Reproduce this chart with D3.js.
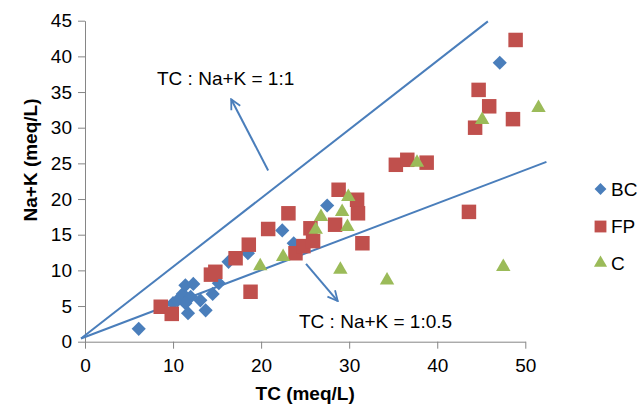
<!DOCTYPE html>
<html><head><meta charset="utf-8">
<script src="https://cdn.jsdelivr.net/npm/d3@7"></script>
<style>body{margin:0;background:#fff}text{font-family:"Liberation Sans",Arial,sans-serif;fill:#000}</style>
</head><body><svg id="c" width="644" height="406"></svg>
<script>
const xTicks=[0,10,20,30,40,50];
const yTicks=[0,5,10,15,20,25,30,35,40,45];
const bcX=[6.1,10.0,10.5,11.1,11.4,12.3,12.0,11.4,11.7,13.1,13.7,14.5,15.2,16.3,18.5,22.4,23.7,27.5,47.1];
const bcY=[1.8,5.4,5.8,6.7,7.9,8.1,6.3,5.4,4.0,5.8,4.4,6.7,8.2,11.2,12.4,15.6,13.8,19.1,39.1];
const fpX=[8.6,9.85,14.3,14.8,17.1,18.6,18.8,20.8,23.1,23.9,24.8,25.9,25.6,28.4,28.8,30.9,31.0,31.5,35.3,36.6,38.8,43.6,44.3,44.7,45.9,48.6,48.9];
const fpY=[4.9,3.9,9.4,9.8,11.7,13.6,7.0,15.8,18.0,12.4,13.4,14.1,15.9,16.4,21.3,19.9,18.0,13.8,24.8,25.5,25.1,18.2,30.0,35.3,33.0,31.2,42.3];
const cX=[19.9,22.5,26.2,26.8,29.2,29.9,29.8,29.0,34.3,37.7,45.1,51.5,47.5];
const cY=[10.6,11.9,15.7,17.5,18.2,20.3,16.1,10.1,8.6,25.1,31.1,32.8,10.5];
const seriesNames=["BC","FP","C"];
const colors=["#4A7EBB","#C0504D","#9BBB59"];
// reference lines [x0,y0,x1,y1] and arrows [tailX,tailY,tipX,tipY] in data units
const refLine1=[-0.45,0.45,45.75,44.9];
const refLine2=[-0.45,0.45,52.4,25.2];
const arrow1=[20.8,24.0,16.6,34.0];
const arrow2=[25.1,10.9,28.7,5.7];
const labels=["TC : Na+K = 1:1","TC : Na+K = 1:0.5"];

const svg=d3.select("#c");
const x=d3.scaleLinear().domain([0,50]).range([85,525.3]);
const y=d3.scaleLinear().domain([0,45]).range([341.7,20.7]);
const axisCol="#868686";
const fs=19;

// axes
const gx=svg.append("g").attr("transform",`translate(0,${y(0)})`)
 .call(d3.axisBottom(x).tickValues(xTicks).tickSize(7).tickSizeOuter(0));
gx.select(".domain").attr("stroke",axisCol);
gx.selectAll("line").attr("stroke",axisCol);
gx.selectAll("text").attr("font-size",fs).attr("dy","1.05em").attr("font-family","Liberation Sans");
const gy=svg.append("g").attr("transform",`translate(${x(0)},0)`)
 .call(d3.axisLeft(y).tickValues(yTicks).tickSize(7).tickSizeOuter(0).tickPadding(6));
gy.select(".domain").attr("stroke",axisCol);
gy.selectAll("line").attr("stroke",axisCol);
gy.selectAll("text").attr("font-size",fs).attr("font-family","Liberation Sans");

// titles
svg.append("text").attr("x",(x(0)+x(50))/2).attr("y",400).attr("text-anchor","middle")
 .attr("font-size",fs).attr("font-weight","bold").text("TC (meq/L)");
svg.append("text").attr("transform","translate(37,160) rotate(-90)").attr("text-anchor","middle")
 .attr("font-size",fs).attr("font-weight","bold").text("Na+K (meq/L)");

// reference lines
[refLine1,refLine2].forEach(l=>{
 svg.append("line").attr("x1",x(l[0])).attr("y1",y(l[1])).attr("x2",x(l[2])).attr("y2",y(l[3]))
  .attr("stroke","#4A7EBB").attr("stroke-width",2);
});
// arrows
svg.append("defs").append("marker").attr("id","ah").attr("viewBox","0 0 12 12").attr("refX",11).attr("refY",6)
 .attr("markerWidth",12).attr("markerHeight",12).attr("markerUnits","userSpaceOnUse").attr("orient","auto")
 .append("path").attr("d","M1,1 L11,6 L1,11").attr("fill","none").attr("stroke","#4A7EBB").attr("stroke-width",1.8);
[arrow1,arrow2].forEach(a=>{
 svg.append("line").attr("x1",x(a[0])).attr("y1",y(a[1])).attr("x2",x(a[2])).attr("y2",y(a[3]))
  .attr("stroke","#4A7EBB").attr("stroke-width",2).attr("marker-end","url(#ah)");
});
svg.append("text").attr("x",157).attr("y",85).attr("font-size",fs).text(labels[0]);
svg.append("text").attr("x",299).attr("y",328).attr("font-size",fs).text(labels[1]);

// points
const sqr=d3.symbol().type(d3.symbolSquare);
const tri=d3.symbol().type(d3.symbolTriangle);
function drawSeries(xs,ys,i){
 const g=svg.append("g");
 xs.forEach((v,k)=>{
  if(i===0) g.append("path").attr("d",sqr.size(100)()).attr("transform",`translate(${x(v)},${y(ys[k])}) rotate(45)`).attr("fill",colors[0]);
  else if(i===1) g.append("path").attr("d",sqr.size(210)()).attr("transform",`translate(${x(v)},${y(ys[k])})`).attr("fill",colors[1]);
  else g.append("path").attr("d",tri.size(90)()).attr("transform",`translate(${x(v)},${y(ys[k])})`).attr("fill",colors[2]);
 });
}
drawSeries(bcX,bcY,0);drawSeries(fpX,fpY,1);drawSeries(cX,cY,2);

// legend
const lg=svg.append("g");
const ly=[189,226.5,263];
seriesNames.forEach((n,i)=>{
 let p;
 if(i===0) p=lg.append("path").attr("d",sqr.size(70)()).attr("transform",`translate(600.5,${ly[i]}) rotate(45)`);
 else if(i===1) p=lg.append("path").attr("d",sqr.size(140)()).attr("transform",`translate(600.5,${ly[i]})`);
 else p=lg.append("path").attr("d",tri.size(75)()).attr("transform",`translate(600.5,${ly[i]})`);
 p.attr("fill",colors[i]);
 lg.append("text").attr("x",611).attr("y",ly[i]).attr("dy","0.35em").attr("font-size",fs).text(n);
});
</script></body></html>
